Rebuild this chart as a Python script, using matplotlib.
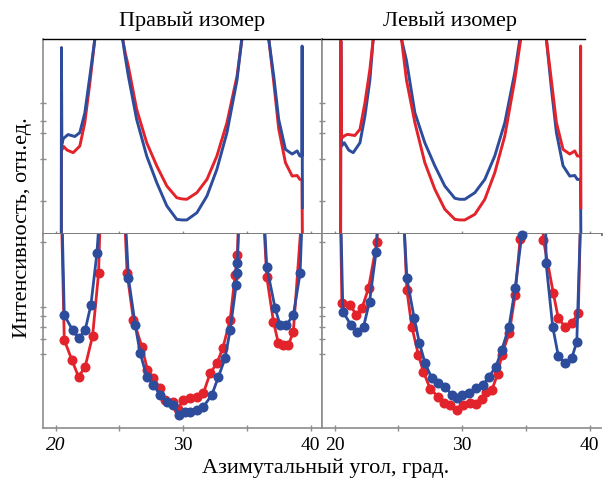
import numpy as np
import matplotlib.pyplot as plt

plt.rcParams['font.family'] = ['Liberation Serif', 'DejaVu Serif']

# --- colours ---
RED = '#e3232b'
BLUE = '#2d4c9c'
FRAME = '#8c8c8c'

W, H = 603, 484
nan = np.nan

# --- calculated curves, right isomer ---
tl_red_x = [20.44, 20.45, 20.47, 20.6, 20.9, 21.37, 21.89, 22.28, 22.68, 23.07, 23.2, nan,
            25.1, 25.25, 25.45, 25.7, 26.35, 27.14, 27.93, 28.72, 29.5, 29.9, 30.29, 31.08, 31.87,
            32.65, 33.44, 34.23, 34.62, 34.75, nan,
            36.6, 36.72, 37.11, 37.5, 38.03, 38.56, 38.95, 39.16, 39.33, 39.36]
tl_red_y = [-0.02, 0.955, 0.43, 0.45, 0.43, 0.417, 0.451, 0.57, 0.776, 1.0, 1.08, nan,
            1.1, 1.0, 0.93, 0.86, 0.64, 0.468, 0.349, 0.246, 0.186, 0.18, 0.178, 0.212, 0.28,
            0.40, 0.571, 0.81, 1.0, 1.1, nan,
            1.1, 1.0, 0.78, 0.54, 0.366, 0.297, 0.30, 0.28, 0.28, -0.02]
tl_blue_x = [20.44, 20.45, 20.47, 20.6, 20.97, 21.5, 21.89, 22.28, 22.68, 23.07, 23.2, nan,
             25.1, 25.25, 25.45, 25.7, 26.35, 27.14, 27.93, 28.72, 29.5, 29.9, 30.29, 31.08, 31.87,
             32.65, 33.44, 34.23, 34.6, 34.75, nan,
             36.6, 36.72, 37.11, 37.5, 38.03, 38.56, 38.95, 39.16, 39.32, 39.34, 39.36]
tl_blue_y = [-0.02, 0.955, 0.46, 0.49, 0.51, 0.50, 0.52, 0.62, 0.81, 1.0, 1.08, nan,
             1.1, 1.0, 0.91, 0.81, 0.588, 0.40, 0.263, 0.144, 0.075, 0.072, 0.072, 0.109, 0.195,
             0.332, 0.52, 0.79, 1.0, 1.1, nan,
             1.1, 1.0, 0.81, 0.588, 0.434, 0.41, 0.426, 0.40, 0.40, 0.964, 0.135]

# --- calculated curves, left isomer ---
tr_blue_x = [20.46, 20.48, 20.52, 20.75, 21.1, 21.45, 21.98, 22.37, 22.76, 23.02, 23.15, nan,
             25.1, 25.24, 25.63, 26.29, 27.07, 27.86, 28.64, 29.43, 29.82, 30.21, 31.0, 31.78, 32.56,
             33.35, 34.13, 34.53, 34.7, nan,
             36.5, 36.61, 37.0, 37.4, 37.92, 38.45, 38.84, 39.04, 39.29, 39.32]
tr_blue_y = [-0.02, 0.99, 0.45, 0.468, 0.43, 0.417, 0.468, 0.605, 0.79, 1.0, 1.08, nan,
             1.1, 1.0, 0.89, 0.622, 0.468, 0.349, 0.246, 0.183, 0.178, 0.178, 0.212, 0.28, 0.40,
             0.571, 0.827, 1.0, 1.1, nan,
             1.1, 1.0, 0.75, 0.52, 0.35, 0.297, 0.30, 0.28, 0.28, -0.02]
tr_red_x = [20.46, 20.48, 20.52, 20.75, 21.0, 21.58, 21.98, 22.37, 22.76, 23.02, 23.15, nan,
            25.1, 25.24, 25.63, 26.29, 27.07, 27.86, 28.64, 29.43, 29.82, 30.21, 31.0, 31.78, 32.56,
            33.35, 34.13, 34.6, 34.75, nan,
            36.5, 36.61, 37.0, 37.4, 37.92, 38.45, 38.84, 39.04, 39.28, 39.30, 39.32]
tr_red_y = [-0.02, 0.99, 0.49, 0.503, 0.511, 0.505, 0.537, 0.673, 0.845, 1.0, 1.08, nan,
            1.1, 1.0, 0.79, 0.571, 0.366, 0.229, 0.127, 0.075, 0.072, 0.072, 0.101, 0.178, 0.314,
            0.503, 0.79, 1.0, 1.1, nan,
            1.1, 1.0, 0.79, 0.571, 0.434, 0.41, 0.426, 0.40, 0.40, 0.964, 0.135]

# --- measured points, right isomer (values above 1 only carry the line off the top) ---
bl_red_x = [20.45, 20.67, 21.27, 21.79, 22.31, 22.89, 23.36, 23.5, nan,
            25.4, 25.6, 26.1, 26.76, 27.2, 27.67, 28.2, 28.59, 29.24, 29.6, 30.02, 30.55, 31.07,
            31.59, 32.12, 32.64, 33.11, 33.69, 34.08, 34.26, 34.35, nan,
            36.3, 36.56, 37.09, 37.48, 37.87, 38.26, 38.65, 39.31]
bl_red_y = [1.1, 0.454, 0.35, 0.264, 0.316, 0.474, 0.797, 1.1, nan,
            1.1, 0.797, 0.557, 0.419, 0.30, 0.256, 0.205, 0.144, 0.136, 0.10, 0.144, 0.153, 0.161,
            0.18, 0.282, 0.333, 0.411, 0.557, 0.789, 0.892, 1.1, nan,
            1.1, 0.78, 0.548, 0.436, 0.428, 0.428, 0.496, 1.1]
bl_blue_x = [20.49, 20.67, 21.32, 21.79, 22.31, 22.76, 23.23, 23.44, nan,
             25.45, 25.71, 26.24, 26.63, 27.15, 27.67, 28.2, 28.72, 29.24, 29.71, 30.16, 30.55, 31.07,
             31.59, 32.25, 32.77, 33.29, 33.69, 34.16, 34.21, 34.26, 34.4, nan,
             36.35, 36.56, 37.22, 37.61, 38.1, 38.65, 39.18, 39.35]
bl_blue_y = [1.1, 0.582, 0.505, 0.462, 0.505, 0.634, 0.90, 1.1, nan,
             1.1, 0.772, 0.531, 0.385, 0.264, 0.222, 0.17, 0.136, 0.119, 0.067, 0.084, 0.084, 0.093,
             0.11, 0.17, 0.264, 0.359, 0.505, 0.737, 0.80, 0.849, 1.1, nan,
             1.1, 0.832, 0.617, 0.531, 0.531, 0.582, 0.797, 1.1]

# --- measured points, left isomer ---
br_red_x = [20.45, 20.56, 21.22, 21.69, 22.13, 22.65, 23.31, 23.4, nan,
            25.4, 25.66, 26.05, 26.57, 26.96, 27.5, 28.14, 28.6, 29.06, 29.58, 30.1, 30.6, 31.1,
            31.55, 31.9, 32.33, 32.8, 33.11, 33.7, 34.16, 34.55, 34.65, nan,
            36.3, 36.38, 37.16, 37.55, 38.08, 38.6, 39.12, 39.3]
br_red_y = [1.1, 0.646, 0.634, 0.582, 0.617, 0.72, 0.96, 1.1, nan,
            1.1, 0.711, 0.522, 0.376, 0.29, 0.20, 0.161, 0.13, 0.119, 0.093, 0.119, 0.127, 0.122,
            0.15, 0.187, 0.196, 0.28, 0.376, 0.49, 0.686, 0.975, 1.1, nan,
            1.1, 0.969, 0.694, 0.565, 0.522, 0.54, 0.591, 1.1]
br_blue_x = [20.47, 20.64, 21.27, 21.74, 22.26, 22.73, 23.25, 23.4, nan,
             25.4, 25.66, 26.24, 26.65, 27.1, 27.62, 28.14, 28.67, 29.19, 29.58, 30.0, 30.5, 31.05,
             31.64, 32.1, 32.65, 33.11, 33.68, 34.16, 34.68, 34.75, nan,
             36.55, 36.59, 37.11, 37.55, 38.08, 38.6, 39.0, 39.31]
br_blue_y = [1.1, 0.60, 0.531, 0.496, 0.522, 0.651, 0.909, 1.1, nan,
             1.1, 0.772, 0.565, 0.436, 0.333, 0.256, 0.23, 0.213, 0.17, 0.153, 0.17, 0.18, 0.205,
             0.222, 0.264, 0.316, 0.402, 0.522, 0.72, 0.995, 1.1, nan,
             1.1, 0.849, 0.522, 0.371, 0.333, 0.359, 0.445, 1.1]

# small marks on the vertical frame lines
top_yticks = [0.169, 0.383, 0.52, 0.58, 0.673]
bottom_yticks = [0.38, 0.457, 0.522, 0.577, 0.625, 0.96]

XLIM = (19.0, 40.9)

fig = plt.figure(figsize=(W / 100, H / 100), dpi=100)


def px_axes(x0, y0, x1, y1):
    return fig.add_axes([x0 / W, 1 - y1 / H, (x1 - x0) / W, (y1 - y0) / H])


ax_tl = px_axes(43, 39, 322, 234)
ax_tr = px_axes(322, 39, 601, 234)
ax_bl = px_axes(43, 234, 322, 428)
ax_br = px_axes(322, 234, 601, 428)

for ax in (ax_tl, ax_tr, ax_bl, ax_br):
    ax.set_xlim(*XLIM)
    ax.set_ylim(0, 1)
    for s in ax.spines.values():
        s.set_color(FRAME)
        s.set_linewidth(1.2)
    ax.tick_params(axis='both', direction='inout', length=5, width=1, color=FRAME,
                   labelleft=False)
    ax.set_xticks([20, 30, 40])
    ax.set_xticks([25, 35], minor=True)
    ax.tick_params(axis='x', which='minor', direction='inout', length=5, width=1, color=FRAME)

# top row: black upper edge, darker dividing line underneath
for ax in (ax_tl, ax_tr):
    ax.spines['top'].set_color('black')
    ax.spines['top'].set_linewidth(1.0)
    ax.spines['bottom'].set_color('#6e6e6e')
    ax.spines['bottom'].set_linewidth(2.0)
    ax.tick_params(axis='x', labelbottom=False)
    ax.set_yticks(top_yticks)
ax_tr.spines['top'].set_bounds(XLIM[0], 39.63)
ax_tr.spines['right'].set_visible(False)

for ax in (ax_bl, ax_br):
    ax.spines['top'].set_visible(False)
    ax.set_yticks(bottom_yticks)
    ax.tick_params(axis='x', labelsize=14, pad=4, labelcolor='black')
ax_br.spines['right'].set_visible(False)
ax_bl.get_xticklabels()[0].set_fontstyle('italic')


def theory(ax, x, y, color):
    ax.plot(x, y, color=color, lw=2.1, solid_joinstyle='round')


def measured(ax, x, y, color, z):
    x = np.asarray(x)
    y = np.asarray(y)
    ax.plot(x, y, color=color, lw=2.0, zorder=z, solid_joinstyle='round')
    on = y <= 1.0
    ax.plot(x[on], y[on], 'o', color=color, ms=6.2, mec=color, clip_on=False, zorder=z)


theory(ax_tl, tl_red_x, tl_red_y, RED)
theory(ax_tl, tl_blue_x, tl_blue_y, BLUE)
theory(ax_tr, tr_blue_x, tr_blue_y, BLUE)
theory(ax_tr, tr_red_x, tr_red_y, RED)

measured(ax_bl, bl_red_x, bl_red_y, RED, 2)
measured(ax_bl, bl_blue_x, bl_blue_y, BLUE, 3)
measured(ax_br, br_red_x, br_red_y, RED, 2)
measured(ax_br, br_blue_x, br_blue_y, BLUE, 3)

# --- titles and axis labels ---
fig.text(192 / W, 1 - 21 / H, 'Правый изомер', ha='center', va='center', fontsize=16)
fig.text(450 / W, 1 - 21 / H, 'Левый изомер', ha='center', va='center', fontsize=16)
fig.text(23 / W, 1 - 228 / H, 'Интенсивность, отн.ед.', rotation=90,
         ha='center', va='center', fontsize=16)
fig.text(326 / W, 1 - 468 / H, 'Азимутальный угол, град.', ha='center', va='center',
         fontsize=16)

fig.savefig('out.png', dpi=100)
